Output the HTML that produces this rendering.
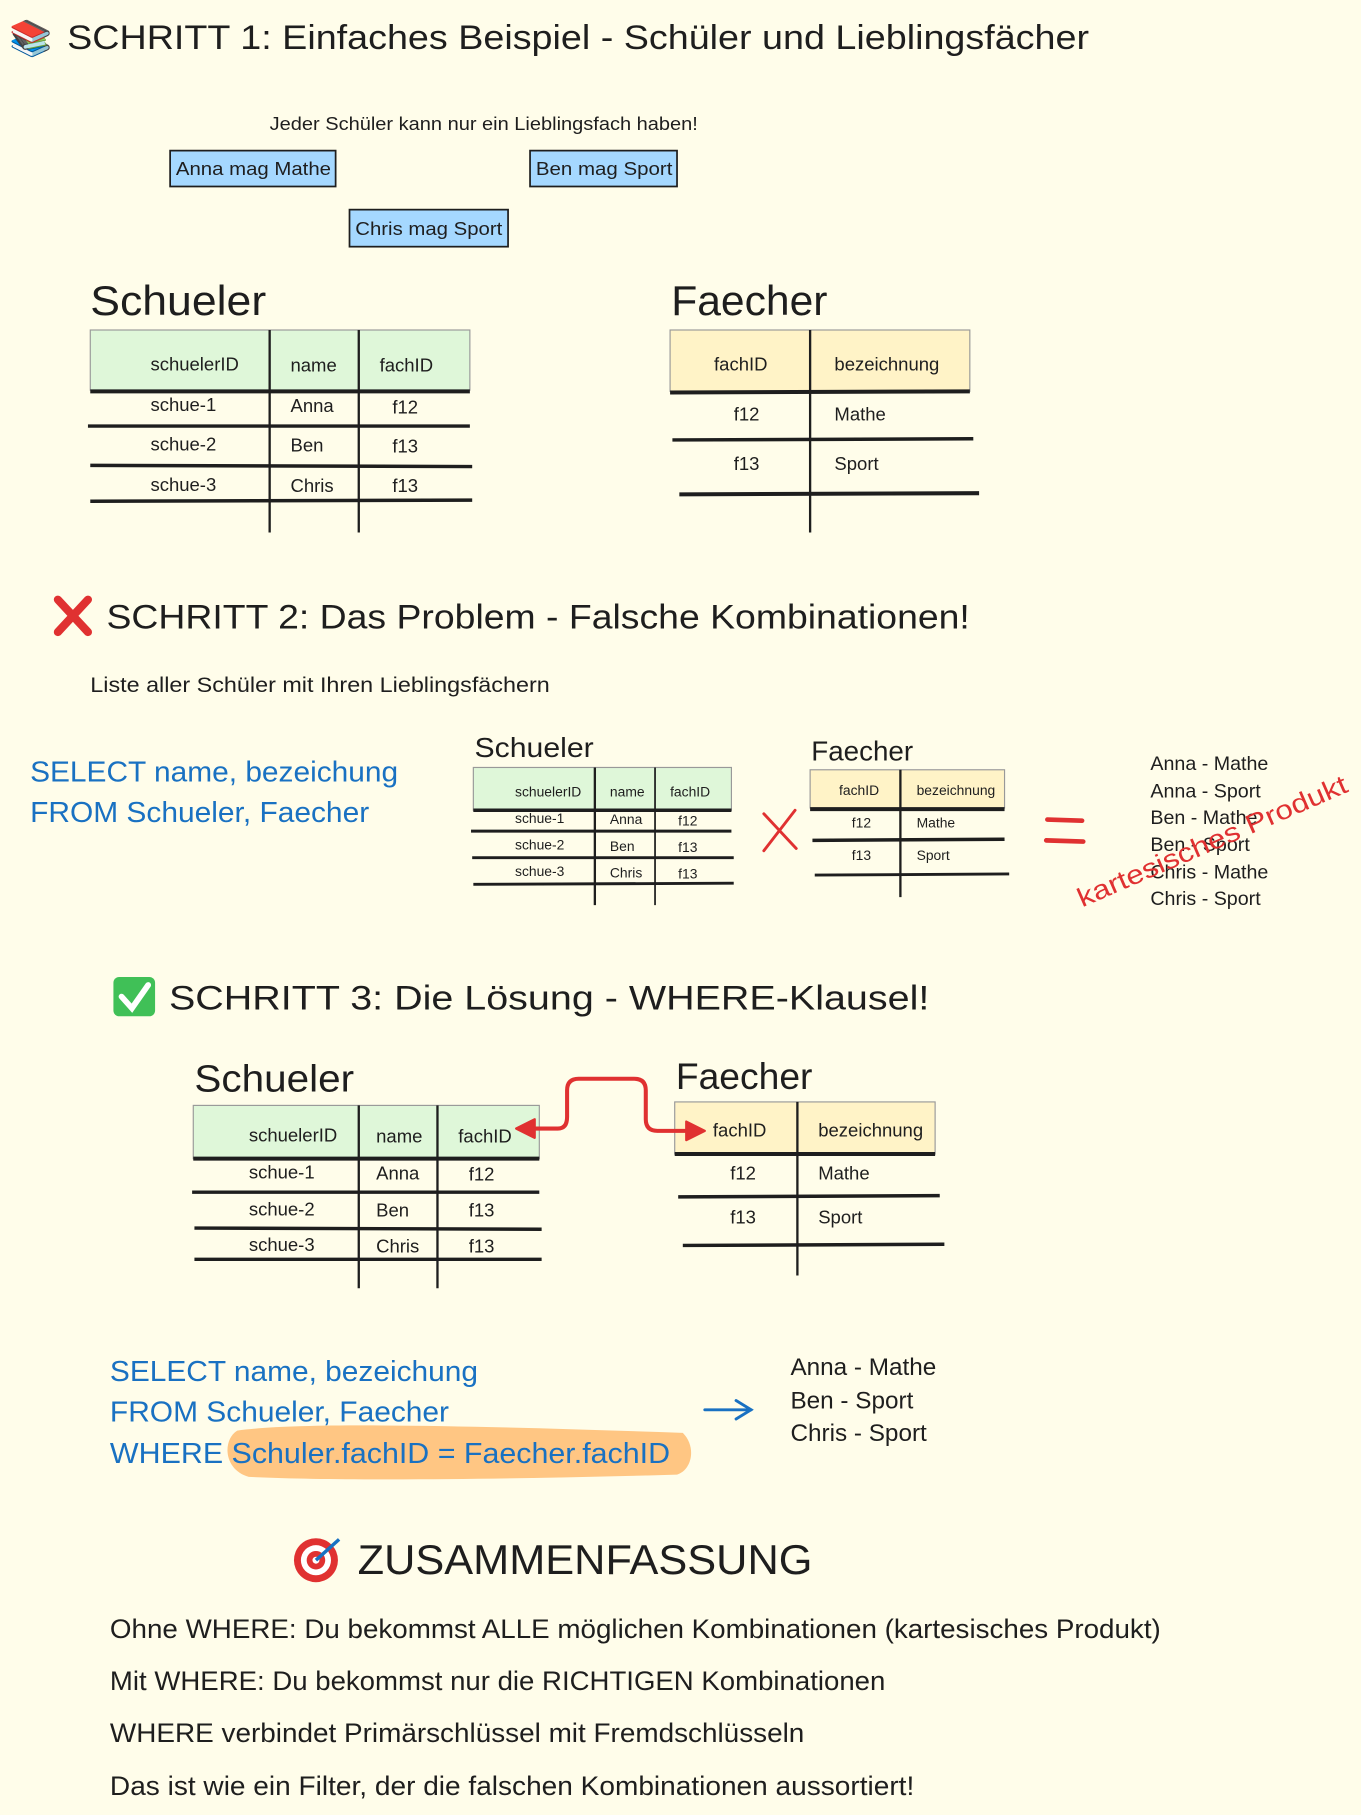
<!DOCTYPE html>
<html><head><meta charset="utf-8"><style>
html,body{margin:0;padding:0;background:#fffdea;}
svg{display:block}
text{font-family:"Liberation Sans","DejaVu Sans",sans-serif;fill:#1e1e1e}
</style></head><body>
<svg width="1361" height="1815" viewBox="0 0 1176 1568" xmlns="http://www.w3.org/2000/svg">
<rect width="1176" height="1568" fill="#fffdea"/>
<!-- Section 1 -->
<text x="8" y="43" font-size="30">📚</text>
<text x="58" y="42" font-size="30" textLength="883" lengthAdjust="spacingAndGlyphs">SCHRITT 1: Einfaches Beispiel - Schüler und Lieblingsfächer</text>
<text x="233" y="112" font-size="16" textLength="370" lengthAdjust="spacingAndGlyphs">Jeder Schüler kann nur ein Lieblingsfach haben!</text>
<g stroke="#1e1e1e" stroke-width="1.5" fill="#a5d8ff">
<rect x="147" y="130" width="143" height="31"/>
<rect x="458" y="130" width="127" height="31"/>
<rect x="302" y="181" width="137" height="32"/>
</g>
<text x="152" y="151" font-size="16" textLength="134" lengthAdjust="spacingAndGlyphs">Anna mag Mathe</text>
<text x="463" y="151" font-size="16" textLength="118" lengthAdjust="spacingAndGlyphs">Ben mag Sport</text>
<text x="307" y="203" font-size="16" textLength="127" lengthAdjust="spacingAndGlyphs">Chris mag Sport</text>

<text x="78" y="272" font-size="36" textLength="152" lengthAdjust="spacingAndGlyphs">Schueler</text>
<text x="580" y="272" font-size="36" textLength="135" lengthAdjust="spacingAndGlyphs">Faecher</text>
<!-- table 1 schueler -->
<rect x="78" y="285" width="328" height="52" fill="#dff7d9" stroke="#999" stroke-width="1"/>
<g stroke="#1e1e1e" fill="none">
<line x1="78" y1="338" x2="406" y2="338" stroke-width="3.5"/>
<line x1="76" y1="368" x2="406" y2="368" stroke-width="3"/>
<line x1="78" y1="402" x2="408" y2="403" stroke-width="3"/>
<line x1="78" y1="433" x2="408" y2="432" stroke-width="3"/>
<line x1="233" y1="285" x2="233" y2="460" stroke-width="2"/>
<line x1="310" y1="285" x2="310" y2="460" stroke-width="2"/>
</g>
<g font-size="16">
<text x="130" y="320">schuelerID</text><text x="251" y="321">name</text><text x="328" y="321">fachID</text>
<text x="130" y="355">schue-1</text><text x="251" y="356">Anna</text><text x="339" y="357">f12</text>
<text x="130" y="389">schue-2</text><text x="251" y="390">Ben</text><text x="339" y="391">f13</text>
<text x="130" y="424">schue-3</text><text x="251" y="425">Chris</text><text x="339" y="425">f13</text>
</g>
<!-- table 1 faecher -->
<rect x="579" y="285" width="259" height="53" fill="#fff3c7" stroke="#999" stroke-width="1"/>
<g stroke="#1e1e1e" fill="none">
<line x1="579" y1="339" x2="838" y2="338" stroke-width="3.5"/>
<line x1="581" y1="380" x2="841" y2="379" stroke-width="3"/>
<line x1="587" y1="427" x2="846" y2="426" stroke-width="3.5"/>
<line x1="700" y1="285" x2="700" y2="460" stroke-width="2"/>
</g>
<g font-size="16">
<text x="617" y="320">fachID</text><text x="721" y="320">bezeichnung</text>
<text x="634" y="363">f12</text><text x="721" y="363">Mathe</text>
<text x="634" y="406">f13</text><text x="721" y="406">Sport</text>
</g>

<!-- Section 2 -->
<g stroke="#e03131" stroke-width="7" stroke-linecap="round" fill="none">
<line x1="50" y1="518" x2="76" y2="546"/><line x1="76" y1="518" x2="50" y2="546"/>
</g>
<text x="92" y="543" font-size="30" textLength="746" lengthAdjust="spacingAndGlyphs">SCHRITT 2: Das Problem - Falsche Kombinationen!</text>
<text x="78" y="598" font-size="18" textLength="397" lengthAdjust="spacingAndGlyphs">Liste aller Schüler mit Ihren Lieblingsfächern</text>
<g fill="#1971c2" font-size="25">
<text x="26" y="675" style="fill:#1971c2" textLength="318" lengthAdjust="spacingAndGlyphs">SELECT name, bezeichung</text>
<text x="26" y="710" style="fill:#1971c2" textLength="293" lengthAdjust="spacingAndGlyphs">FROM Schueler, Faecher</text>
</g>
<text x="410" y="654" font-size="24" textLength="103" lengthAdjust="spacingAndGlyphs">Schueler</text>
<text x="701" y="657" font-size="24" textLength="88" lengthAdjust="spacingAndGlyphs">Faecher</text>
<rect x="409" y="663" width="223" height="37" fill="#dff7d9" stroke="#999"/>
<g stroke="#1e1e1e" fill="none">
<line x1="409" y1="700" x2="632" y2="700" stroke-width="3"/>
<line x1="407" y1="718" x2="632" y2="718" stroke-width="2.5"/>
<line x1="408" y1="741" x2="634" y2="741" stroke-width="2.5"/>
<line x1="409" y1="764" x2="634" y2="763" stroke-width="2.5"/>
<line x1="514" y1="663" x2="514" y2="782" stroke-width="2"/>
<line x1="566" y1="663" x2="566" y2="782" stroke-width="1.5"/>
</g>
<g font-size="12">
<text x="445" y="688">schuelerID</text><text x="527" y="688">name</text><text x="579" y="688">fachID</text>
<text x="445" y="711">schue-1</text><text x="527" y="712">Anna</text><text x="586" y="713">f12</text>
<text x="445" y="734">schue-2</text><text x="527" y="735">Ben</text><text x="586" y="736">f13</text>
<text x="445" y="757">schue-3</text><text x="527" y="758">Chris</text><text x="586" y="759">f13</text>
</g>
<rect x="700" y="665" width="168" height="33" fill="#fff3c7" stroke="#999"/>
<g stroke="#1e1e1e" fill="none">
<line x1="700" y1="699" x2="868" y2="699" stroke-width="3.5"/>
<line x1="702" y1="726" x2="868" y2="725" stroke-width="3"/>
<line x1="704" y1="756" x2="872" y2="755" stroke-width="2.5"/>
<line x1="778" y1="665" x2="778" y2="775" stroke-width="2"/>
</g>
<g font-size="12">
<text x="725" y="687">fachID</text><text x="792" y="687">bezeichnung</text>
<text x="736" y="715">f12</text><text x="792" y="715">Mathe</text>
<text x="736" y="743">f13</text><text x="792" y="743">Sport</text>
</g>
<g stroke="#e03131" stroke-width="2.5" fill="none" stroke-linecap="round">
<path d="M660 703 L688 733"/><path d="M687 700 L660 735"/>
<path d="M905 708 L935 709" stroke-width="4"/><path d="M904 726 L936 727" stroke-width="4"/>
</g>
<g font-size="17">
<text x="994" y="665">Anna - Mathe</text>
<text x="994" y="689">Anna - Sport</text>
<text x="994" y="712">Ben - Mathe</text>
<text x="994" y="735">Ben - Sport</text>
<text x="994" y="759">Chris - Mathe</text>
<text x="994" y="782">Chris - Sport</text>
</g>
<text x="0" y="0" font-size="23" style="fill:#e03131" transform="translate(935,784) rotate(-23.5)" textLength="252" lengthAdjust="spacingAndGlyphs">kartesisches Produkt</text>

<!-- Section 3 -->
<rect x="98" y="844" width="36" height="34" rx="5" fill="#40c057"/>
<path d="M105 861 L114 871 L128 851" stroke="#fff" stroke-width="5" fill="none" stroke-linecap="round"/>
<text x="146" y="872" font-size="30" textLength="657" lengthAdjust="spacingAndGlyphs">SCHRITT 3: Die Lösung - WHERE-Klausel!</text>
<text x="168" y="943" font-size="33" textLength="138" lengthAdjust="spacingAndGlyphs">Schueler</text>
<text x="584" y="941" font-size="32" textLength="118" lengthAdjust="spacingAndGlyphs">Faecher</text>
<rect x="167" y="955" width="299" height="46" fill="#dff7d9" stroke="#999"/>
<g stroke="#1e1e1e" fill="none">
<line x1="167" y1="1001" x2="466" y2="1001" stroke-width="3.5"/>
<line x1="166" y1="1030" x2="466" y2="1030" stroke-width="3"/>
<line x1="168" y1="1061" x2="468" y2="1062" stroke-width="3"/>
<line x1="168" y1="1088" x2="468" y2="1088" stroke-width="3"/>
<line x1="310" y1="955" x2="310" y2="1113" stroke-width="2"/>
<line x1="378" y1="955" x2="378" y2="1113" stroke-width="2"/>
</g>
<g font-size="16">
<text x="215" y="986">schuelerID</text><text x="325" y="987">name</text><text x="396" y="987">fachID</text>
<text x="215" y="1018">schue-1</text><text x="325" y="1019">Anna</text><text x="405" y="1020">f12</text>
<text x="215" y="1050">schue-2</text><text x="325" y="1051">Ben</text><text x="405" y="1051">f13</text>
<text x="215" y="1081">schue-3</text><text x="325" y="1082">Chris</text><text x="405" y="1082">f13</text>
</g>
<rect x="583" y="952" width="225" height="45" fill="#fff3c7" stroke="#999"/>
<g stroke="#1e1e1e" fill="none">
<line x1="583" y1="997" x2="808" y2="997" stroke-width="3.5"/>
<line x1="586" y1="1034" x2="812" y2="1033" stroke-width="3"/>
<line x1="590" y1="1076" x2="816" y2="1075" stroke-width="3"/>
<line x1="689" y1="952" x2="689" y2="1102" stroke-width="2"/>
</g>
<g font-size="16">
<text x="616" y="982">fachID</text><text x="707" y="982">bezeichnung</text>
<text x="631" y="1019">f12</text><text x="707" y="1019">Mathe</text>
<text x="631" y="1057">f13</text><text x="707" y="1057">Sport</text>
</g>
<path d="M458 975 L482 975 Q490 975 490 965 L490 942 Q490 932 500 932 L548 932 Q558 932 558 942 L558 967 Q558 977 568 977 L598 977" stroke="#e03131" stroke-width="3.5" fill="none"/>
<path d="M446 975 L462 967 L462 983 Z" fill="#e03131" stroke="#e03131" stroke-width="2" stroke-linejoin="round"/>
<path d="M609 977 L593 969 L593 985 Z" fill="#e03131" stroke="#e03131" stroke-width="2" stroke-linejoin="round"/>

<path d="M205 1236 C260 1228 420 1232 590 1238 C602 1250 598 1270 585 1274 C450 1278 300 1280 215 1276 C193 1270 192 1244 205 1236 Z" fill="#ffc078" opacity="0.9"/>
<g font-size="25">
<text x="95" y="1193" style="fill:#1971c2" textLength="318" lengthAdjust="spacingAndGlyphs">SELECT name, bezeichung</text>
<text x="95" y="1228" style="fill:#1971c2" textLength="293" lengthAdjust="spacingAndGlyphs">FROM Schueler, Faecher</text>
<text x="95" y="1264" style="fill:#1971c2" textLength="484" lengthAdjust="spacingAndGlyphs">WHERE Schuler.fachID = Faecher.fachID</text>
</g>
<g stroke="#1971c2" stroke-width="2.5" fill="none" stroke-linecap="round">
<path d="M609 1218 L649 1218"/><path d="M636 1210 L649 1218 L636 1226"/>
</g>
<g font-size="21">
<text x="683" y="1188">Anna - Mathe</text>
<text x="683" y="1217">Ben - Sport</text>
<text x="683" y="1245">Chris - Sport</text>
</g>

<!-- Section 4 -->
<circle cx="273" cy="1348" r="19" fill="#e03131"/>
<circle cx="273" cy="1348" r="13" fill="#fff"/>
<circle cx="273" cy="1348" r="8" fill="#e03131"/>
<circle cx="273" cy="1348" r="3" fill="#fff"/>
<path d="M273 1348 L293 1330" stroke="#1971c2" stroke-width="3"/>
<text x="309" y="1360" font-size="36" textLength="393" lengthAdjust="spacingAndGlyphs">ZUSAMMENFASSUNG</text>
<g font-size="23">
<text x="95" y="1415" textLength="908" lengthAdjust="spacingAndGlyphs">Ohne WHERE: Du bekommst ALLE möglichen Kombinationen (kartesisches Produkt)</text>
<text x="95" y="1460" textLength="670" lengthAdjust="spacingAndGlyphs">Mit WHERE: Du bekommst nur die RICHTIGEN Kombinationen</text>
<text x="95" y="1505" textLength="600" lengthAdjust="spacingAndGlyphs">WHERE verbindet Primärschlüssel mit Fremdschlüsseln</text>
<text x="95" y="1551" textLength="695" lengthAdjust="spacingAndGlyphs">Das ist wie ein Filter, der die falschen Kombinationen aussortiert!</text>
</g>
</svg>
</body></html>
